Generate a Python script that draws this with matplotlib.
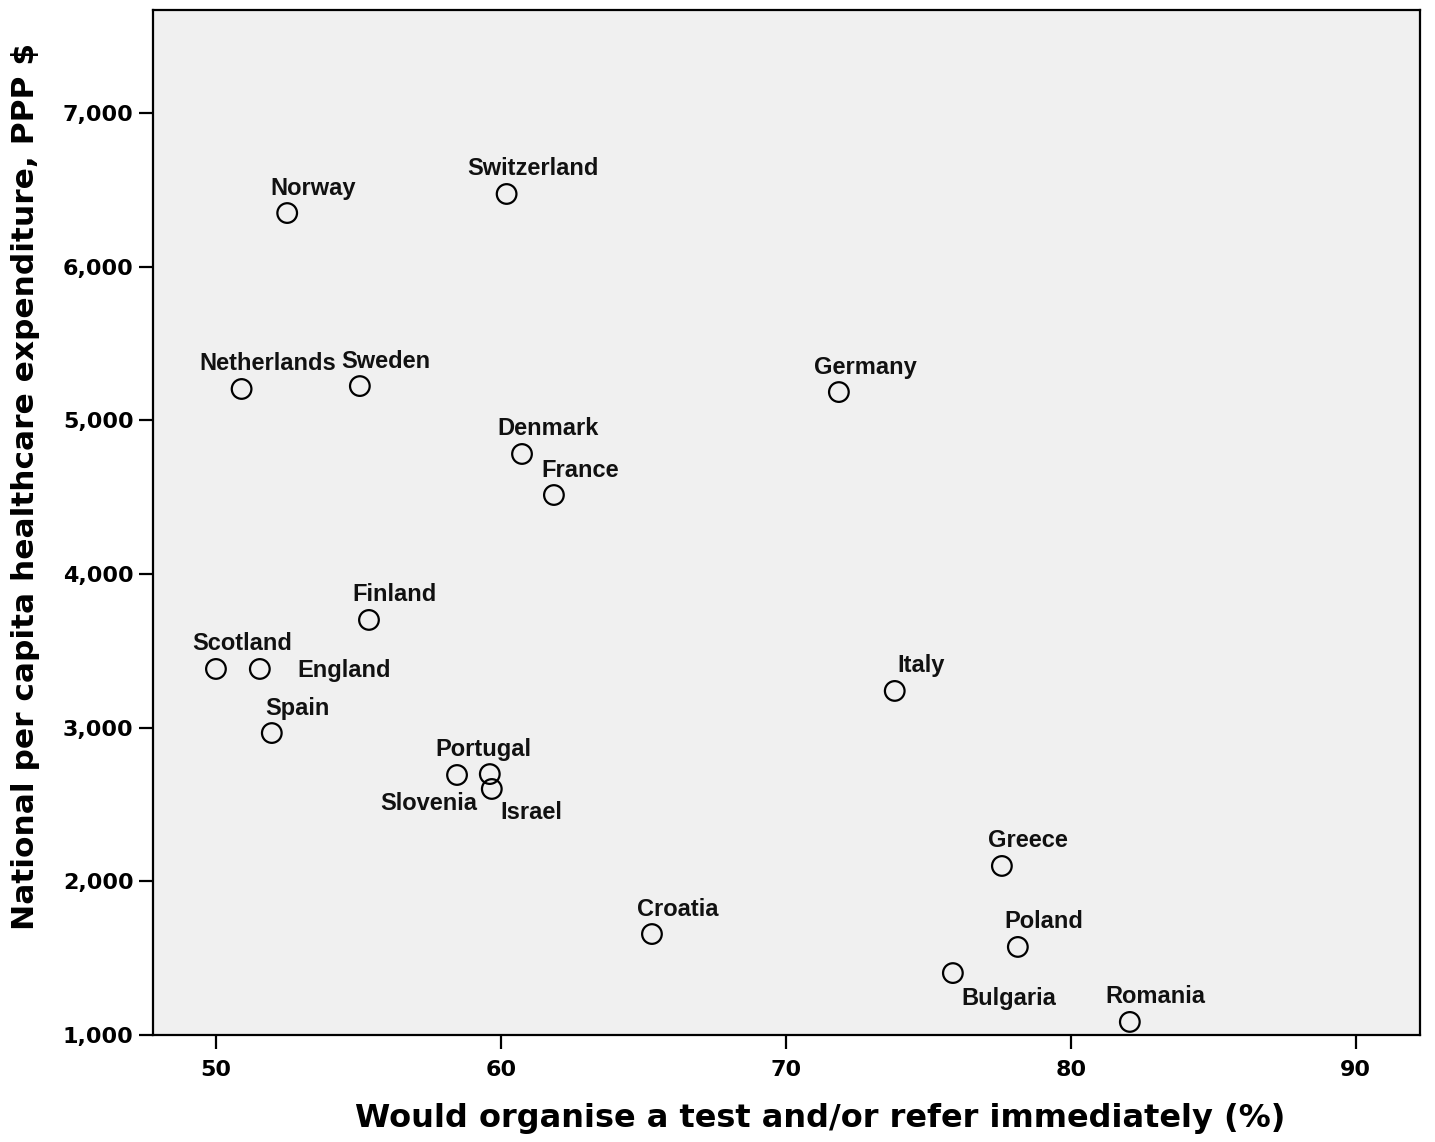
import matplotlib
matplotlib.use("Agg")
import matplotlib.pyplot as plt
from matplotlib.ticker import FuncFormatter

# data
countries = ["Norway", "Switzerland", "Netherlands", "Sweden", "Germany", "Denmark",
             "France", "Finland", "Scotland", "England", "Spain", "Italy", "Portugal",
             "Slovenia", "Israel", "Greece", "Croatia", "Poland", "Bulgaria", "Romania"]
pct_refer = [52.5, 60.2, 50.9, 55.05, 71.86, 60.74, 61.86, 55.37, 50.0, 51.54,
             51.96, 73.82, 58.46, 59.61, 59.68, 77.58, 65.3, 78.14, 75.86, 82.07]
spend_ppp = [6349, 6473, 5204, 5223, 5184, 4781, 4514, 3701, 3382, 3382,
             2965, 3239, 2692, 2698, 2601, 2100, 1657, 1573, 1403, 1085]

# label offsets in pixels (default: right and above)
default_off = (26, 25)
label_off = {"England": (84, -2), "Slovenia": (-61, -29), "Israel": (40, -24),
             "Bulgaria": (56, -25)}

fig = plt.figure(figsize=(14.35, 11.42), dpi=100)
ax = fig.add_axes([0.1066, 0.0937, 0.8829, 0.8975])
ax.set_facecolor("#f0f0f0")

ax.scatter(pct_refer, spend_ppp, s=200, facecolors="none", edgecolors="black",
           linewidths=1.6, zorder=3)

for name, x, y in zip(countries, pct_refer, spend_ppp):
    dx, dy = label_off.get(name, default_off)
    ax.annotate(name, (x, y), xytext=(dx, dy), textcoords="offset pixels",
                ha="center", va="center", fontsize=17, fontweight="bold",
                family="Liberation Sans", color="#111111")

ax.set_xlim(47.79, 92.25)
ax.set_ylim(1000, 7670)
ax.set_xticks([50, 60, 70, 80, 90])
ax.set_yticks([1000, 2000, 3000, 4000, 5000, 6000, 7000])
ax.yaxis.set_major_formatter(FuncFormatter(lambda v, p: f"{int(v):,}"))

for sp in ax.spines.values():
    sp.set_linewidth(1.6)
ax.tick_params(direction="out", length=10, width=1.6, labelsize=16, pad=4)
ax.tick_params(axis="x", pad=8)
for lab in ax.get_xticklabels() + ax.get_yticklabels():
    lab.set_fontweight("bold")
    lab.set_family("DejaVu Sans")

ax.set_xlabel("Would organise a test and/or refer immediately (%)", fontsize=23,
              fontweight="bold", family="DejaVu Sans", va="center")
ax.set_ylabel("National per capita healthcare expenditure, PPP $", fontsize=22.5,
              fontweight="bold", family="DejaVu Sans", va="center")
ax.xaxis.set_label_coords(0.527, -0.081)
ax.yaxis.set_label_coords(-0.101, 0.535)

fig.savefig("out.png", dpi=100, facecolor="white")
